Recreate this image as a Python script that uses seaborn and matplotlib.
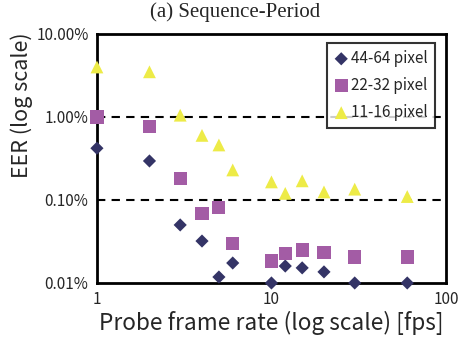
import matplotlib
matplotlib.use("Agg")
import matplotlib.pyplot as plt
import seaborn as sns
import pandas as pd
from matplotlib.ticker import FixedLocator, NullLocator

# frame rates [fps]
fps = [1, 2, 3, 4, 5, 6, 10, 12, 15, 20, 30, 60]

# EER in percent
eer_44_64 = [0.42, 0.295, 0.050, 0.032, 0.0118, 0.0174, 0.010, 0.016, 0.0152, 0.0136, 0.010, 0.010]
eer_22_32 = [1.0, 0.76, 0.18, 0.068, 0.082, 0.030, 0.0184, 0.0224, 0.025, 0.0235, 0.0206, 0.0206]
eer_11_16 = [4.0, 3.5, 1.05, 0.60, 0.46, 0.23, 0.165, 0.12, 0.17, 0.125, 0.135, 0.11]

series_names = ["44-64 pixel", "22-32 pixel", "11-16 pixel"]
y_ticks = [0.01, 0.1, 1.0, 10.0]
y_tick_labels = ["0.01%", "0.10%", "1.00%", "10.00%"]
x_ticks = [1, 10, 100]
x_tick_labels = ["1", "10", "100"]

df = pd.DataFrame({
    "fps": fps * 3,
    "eer": eer_44_64 + eer_22_32 + eer_11_16,
    "size": [series_names[0]] * len(fps) + [series_names[1]] * len(fps) + [series_names[2]] * len(fps),
})

sns.set_style("white")
label_font = ["Noto Sans CJK JP", "DejaVu Sans"]

fig = plt.figure(figsize=(4.66, 3.43), dpi=100)
ax = fig.add_axes([0.208, 0.175, 0.749, 0.726])

palette = {series_names[0]: "#343466", series_names[1]: "#A35CA5", series_names[2]: "#EDEB47"}
markers = {series_names[0]: "D", series_names[1]: "s", series_names[2]: "^"}
sizes = {series_names[0]: 45, series_names[1]: 90, series_names[2]: 85}

for name in series_names:
    sub = df[df["size"] == name]
    sns.scatterplot(data=sub, x="fps", y="eer", ax=ax, color=palette[name],
                    marker=markers[name], s=sizes[name], edgecolor="none",
                    label=name, clip_on=False, zorder=3)

ax.set_xscale("log")
ax.set_yscale("log")
ax.set_xlim(1, 100)
ax.set_ylim(0.01, 10)

# dashed reference lines at 1% and 0.1%
for yv in [0.1, 1.0]:
    ax.axhline(yv, color="black", linestyle=(0, (4, 3)), linewidth=1.5, zorder=1)

ax.xaxis.set_major_locator(FixedLocator(x_ticks))
ax.xaxis.set_minor_locator(NullLocator())
ax.yaxis.set_major_locator(FixedLocator(y_ticks))
ax.yaxis.set_minor_locator(NullLocator())
ax.set_xticks(x_ticks)
ax.set_xticklabels(x_tick_labels, family=label_font, fontsize=11)
ax.set_yticks(y_ticks)
ax.set_yticklabels(y_tick_labels, family=label_font, fontsize=11)
ax.tick_params(axis="both", length=0, pad=6)

for sp in ax.spines.values():
    sp.set_color("black")
    sp.set_linewidth(2)

ax.set_xlabel("Probe frame rate (log scale) [fps]", family=label_font, fontsize=16.3, labelpad=2)
ax.set_ylabel("EER (log scale)", family=label_font, fontsize=15.5, labelpad=4)
ax.yaxis.set_label_coords(-0.183, 0.713)
fig.text(0.505, 0.965, "(a) Sequence-Period", family="Liberation Serif", fontsize=15,
         ha="center", va="center")

leg = ax.legend(loc="upper right", bbox_to_anchor=(0.968, 0.964), frameon=True, fancybox=False,
                handletextpad=0.15, borderpad=0.45, labelspacing=0.65, handlelength=1.0,
                borderaxespad=0.0, prop={"family": label_font, "size": 11})
leg.get_frame().set_edgecolor("black")
leg.get_frame().set_linewidth(1.5)

fig.savefig("out.png", dpi=100)
